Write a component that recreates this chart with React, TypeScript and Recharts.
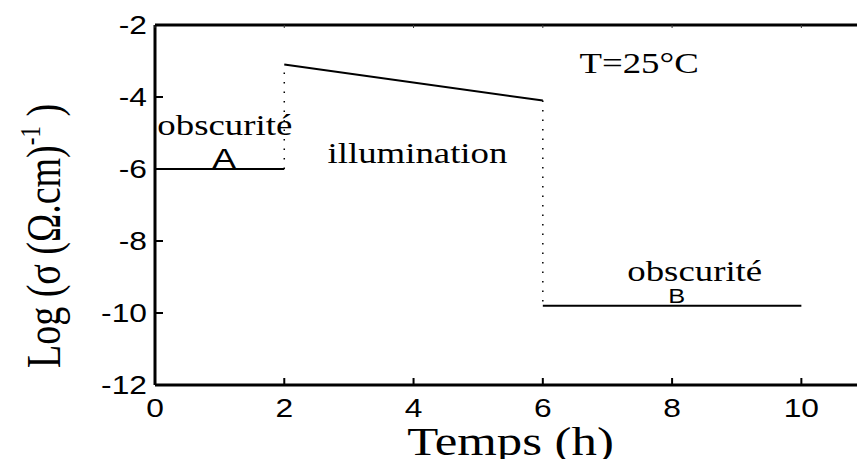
import React from 'react';
import { LineChart, Line, XAxis, YAxis, ReferenceDot } from 'recharts';

// ---- data ----
const darkATime = [0, 2];
const darkAValues = [-6, -6];
const lightTime = [2, 6];
const lightValues = [-3.1, -4.1];
const darkBTime = [6, 10];
const darkBValues = [-9.8, -9.8];
const xTicks = [0, 2, 4, 6, 8, 10];
const yTicks = [-12, -10, -8, -6, -4, -2];
const xDomain = [0, 11];
const yDomain = [-12, -2];

const toPoints = (xs: number[], ys: number[]) => xs.map((t, i) => ({ t, v: ys[i] }));
const segA = toPoints(darkATime, darkAValues);
const jump1 = toPoints([darkATime[1], lightTime[0]], [darkAValues[1], lightValues[0]]);
const segL = toPoints(lightTime, lightValues);
const jump2 = toPoints([lightTime[1], darkBTime[0]], [lightValues[1], darkBValues[0]]);
const segB = toPoints(darkBTime, darkBValues);

const SX = 1.27;
const SERIF = '"Liberation Serif", "Times New Roman", serif';
const SANS = '"Liberation Sans", Arial, sans-serif';

function StretchText({ x, y, anchor = 'middle', size, family, children }: any) {
  return (
    <text
      transform={`translate(${x},${y}) scale(${SX},1)`}
      textAnchor={anchor}
      fontSize={size}
      fontFamily={family}
      fill="#000"
    >
      {children}
    </text>
  );
}

const BottomTick = (props: any) => {
  const { x, y, payload } = props;
  return (
    <g>
      <line x1={x} x2={x} y1={y} y2={y - 7} stroke="#000" strokeWidth={2} />
      <StretchText x={x} y={y + 32} size={25} family={SANS}>{payload.value}</StretchText>
    </g>
  );
};

const LeftTick = (props: any) => {
  const { x, y, payload } = props;
  return (
    <g>
      <line x1={x} x2={x + 8} y1={y} y2={y} stroke="#000" strokeWidth={2} />
      <StretchText x={x - 8} y={y + 9} anchor="end" size={25} family={SANS}>{payload.value}</StretchText>
    </g>
  );
};

const TopTick = (props: any) => {
  const { x, y } = props;
  return <line x1={x} x2={x} y1={y} y2={y + 3} stroke="#333" strokeWidth={1} />;
};

const Ann = (props: any) => {
  const vb = props.viewBox || {};
  const x = (vb.x ?? 0) + (vb.width ?? 0) / 2;
  const y = (vb.y ?? 0) + (vb.height ?? 0) / 2;
  return (
    <StretchText x={x} y={y} size={props.size} family={props.family}>{props.text}</StretchText>
  );
};

const XTitle = (props: any) => {
  const vb = props.viewBox || {};
  const cx = (vb.x ?? 155) + (vb.width ?? 711) / 2;
  const y = (vb.y ?? 385) + 70;
  return <StretchText x={cx} y={y} size={40} family={SERIF}>Temps (h)</StretchText>;
};

const YTitle = (props: any) => {
  const vb = props.viewBox || {};
  const top = vb.y ?? 25;
  const x = 60;
  const y = top + 211;
  return (
    <text
      transform={`translate(${x},${y}) scale(${SX},1) rotate(-90)`}
      textAnchor="middle"
      fontSize={38}
      fontFamily={SERIF}
      fill="#000"
    >
      Log (σ (Ω.cm)
      <tspan fontSize={23} dy={-16}>-1</tspan>
      <tspan fontSize={38} dy={16}> )</tspan>
    </text>
  );
};

export default function App() {
  return (
    <div
      style={{
        position: 'absolute',
        left: 0,
        top: 0,
        width: 857,
        height: 459,
        overflow: 'hidden',
        background: '#fff',
      }}
    >
      <LineChart width={880} height={459} margin={{ top: 0, right: 14, bottom: 0, left: 0 }}>
        <XAxis
          xAxisId="b"
          dataKey="t"
          type="number"
          domain={xDomain}
          allowDataOverflow
          ticks={xTicks}
          interval={0}
          height={74}
          tickSize={0}
          tickMargin={0}
          tickLine={false}
          axisLine={{ stroke: '#000', strokeWidth: 3 }}
          tick={<BottomTick />}
          label={<XTitle />}
        />
        <XAxis
          xAxisId="t"
          orientation="top"
          dataKey="t"
          type="number"
          domain={xDomain}
          allowDataOverflow
          ticks={xTicks}
          interval={0}
          height={25}
          tickSize={0}
          tickMargin={0}
          tickLine={false}
          axisLine={{ stroke: '#000', strokeWidth: 3 }}
          tick={<TopTick />}
        />
        <YAxis
          type="number"
          domain={yDomain}
          allowDataOverflow
          ticks={yTicks}
          interval={0}
          width={155}
          tickSize={0}
          tickMargin={0}
          tickLine={false}
          axisLine={{ stroke: '#000', strokeWidth: 3 }}
          tick={<LeftTick />}
          label={<YTitle />}
        />
        <Line xAxisId="b" data={segA} dataKey="v" type="linear" stroke="#000" strokeWidth={2} dot={false} isAnimationActive={false} />
        <Line xAxisId="b" data={jump1} dataKey="v" type="linear" stroke="#000" strokeWidth={1.5} strokeDasharray="1.5 8" dot={false} isAnimationActive={false} />
        <Line xAxisId="b" data={segL} dataKey="v" type="linear" stroke="#000" strokeWidth={2} dot={false} isAnimationActive={false} />
        <Line xAxisId="b" data={jump2} dataKey="v" type="linear" stroke="#000" strokeWidth={1.5} strokeDasharray="1.5 8" dot={false} isAnimationActive={false} />
        <Line xAxisId="b" data={segB} dataKey="v" type="linear" stroke="#000" strokeWidth={2} dot={false} isAnimationActive={false} />

        <ReferenceDot xAxisId="b" x={1.08} y={-5.06} r={0} label={<Ann text="obscurité" size={29} family={SERIF} />} />
        <ReferenceDot xAxisId="b" x={1.07} y={-5.97} r={0} label={<Ann text="A" size={28} family={SANS} />} />
        <ReferenceDot xAxisId="b" x={4.06} y={-5.83} r={0} label={<Ann text="illumination" size={29} family={SERIF} />} />
        <ReferenceDot xAxisId="b" x={7.49} y={-3.33} r={0} label={<Ann text="T=25°C" size={29} family={SERIF} />} />
        <ReferenceDot xAxisId="b" x={8.35} y={-9.12} r={0} label={<Ann text="obscurité" size={29} family={SERIF} />} />
        <ReferenceDot xAxisId="b" x={8.07} y={-9.72} r={0} label={<Ann text="B" size={20} family={SANS} />} />
      </LineChart>
    </div>
  );
}
